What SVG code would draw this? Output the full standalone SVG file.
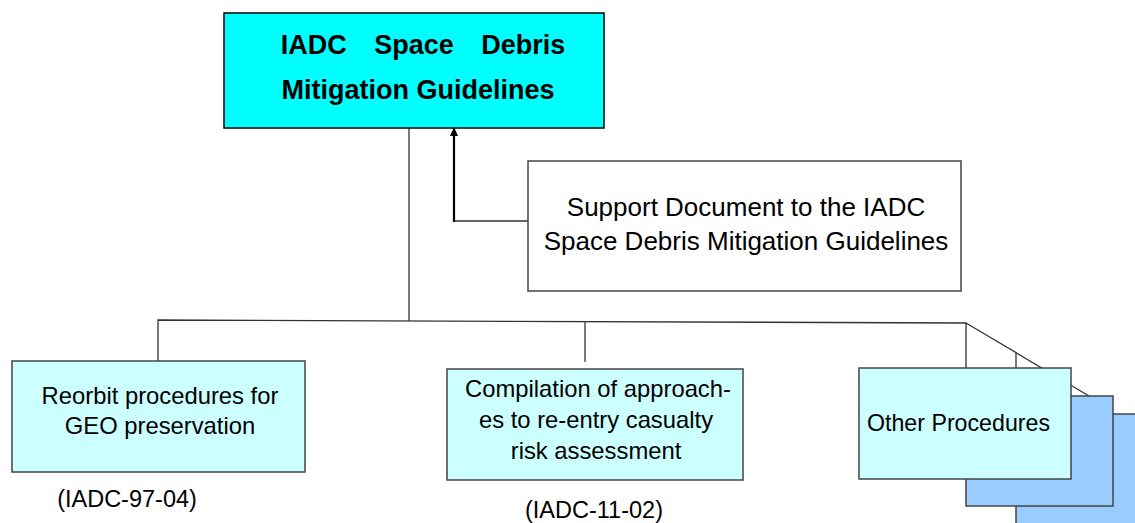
<svg xmlns="http://www.w3.org/2000/svg" width="1135" height="523" viewBox="0 0 1135 523">
<style>
.t{font-family:"Liberation Sans",Arial,sans-serif;fill:#000}
.title{font-size:27px;font-weight:bold;text-anchor:middle}
.sup{font-size:26px;text-anchor:middle}
.lbl{font-size:23.8px;text-anchor:middle}
.ref{font-size:23.5px;text-anchor:middle}
.c{stroke:#333;stroke-width:1.3;fill:none}
.box{stroke:#444;stroke-width:1.5}
</style>
<g id="connectors">
<line class="c" x1="409" y1="128" x2="409" y2="321"/>
<polyline class="c" points="158,361 158,320 966,323 966,368"/>
<line class="c" x1="585" y1="322" x2="585" y2="362"/>
<line class="c" x1="966" y1="323" x2="1089" y2="396"/>
<line class="c" x1="1016" y1="352" x2="1016" y2="414"/>
<line x1="528" y1="221" x2="454" y2="221" stroke="#666" stroke-width="2"/>
<line x1="454" y1="222" x2="454" y2="134" stroke="#000" stroke-width="2.2"/>
<path d="M454,127 L450,136 L458,136 z" fill="#000"/>
</g>
<g id="main">
<rect x="224" y="13" width="380" height="115" fill="#00FFFF" stroke="#000" stroke-width="1.5"/>
<text class="t title" x="423" y="54" word-spacing="20">IADC Space Debris</text>
<text class="t title" x="418" y="99">Mitigation Guidelines</text>
</g>
<g id="support">
<rect x="528" y="161" width="433" height="130" fill="#fff" class="box"/>
<text class="t sup" x="746" y="216">Support Document to the IADC</text>
<text class="t sup" x="746" y="250">Space Debris Mitigation Guidelines</text>
</g>
<g id="reorbit">
<rect x="12" y="361" width="293" height="111" fill="#CCFFFF" class="box"/>
<text class="t lbl" x="160" y="404">Reorbit procedures for</text>
<text class="t lbl" x="160" y="434">GEO preservation</text>
<text class="t ref" x="127" y="507">(IADC-97-04)</text>
</g>
<g id="compilation">
<rect x="447" y="369" width="296" height="111" fill="#CCFFFF" class="box"/>
<text class="t lbl" x="598" y="397">Compilation of approach-</text>
<text class="t lbl" x="596" y="428">es to re-entry casualty</text>
<text class="t lbl" x="596" y="459">risk assessment</text>
<text class="t ref" x="594" y="518">(IADC-11-02)</text>
</g>
<g id="other">
<rect x="1016" y="414" width="125" height="120" fill="#99CCFF" class="box"/>
<rect x="966" y="396" width="147" height="110" fill="#99CCFF" class="box"/>
<rect x="859" y="368" width="212" height="111" fill="#CCFFFF" class="box"/>
<text class="t lbl" x="867" y="431" style="text-anchor:start;font-size:23.2px">Other Procedures</text>
</g>
</svg>
